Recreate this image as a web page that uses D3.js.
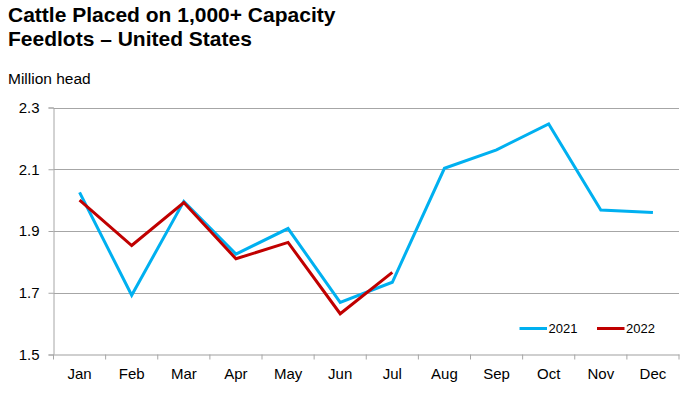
<!DOCTYPE html>
<html>
<head>
<meta charset="utf-8">
<script src="https://cdn.jsdelivr.net/npm/d3@7"></script>
<style>
  html, body { margin: 0; padding: 0; background: #fff; }
  svg { display: block; font-family: "Liberation Sans", Arial, sans-serif; }
</style>
</head>
<body>
<div id="chart"></div>
<script>
const months = ["Jan","Feb","Mar","Apr","May","Jun","Jul","Aug","Sep","Oct","Nov","Dec"];
const values2021 = [2.025, 1.692, 1.996, 1.825, 1.908, 1.669, 1.734, 2.103, 2.163, 2.247, 1.968, 1.960];
const values2022 = [2.000, 1.853, 1.992, 1.810, 1.863, 1.632, 1.766];
const yTicks = [1.5, 1.7, 1.9, 2.1, 2.3];
const seriesNames = ["2021", "2022"];
const seriesColors = ["#00b0f0", "#c00000"];

const W = 688, H = 394;
const margin = {left: 53.5, right: 9, top: 107.5, bottom: 39.5};

const svg = d3.select("#chart").append("svg").attr("width", W).attr("height", H);

svg.append("text").attr("x", 8).attr("y", 22)
  .attr("font-size", 21).attr("font-weight", "bold").attr("fill", "#000")
  .text("Cattle Placed on 1,000+ Capacity");
svg.append("text").attr("x", 8).attr("y", 45.5)
  .attr("font-size", 21).attr("font-weight", "bold").attr("fill", "#000")
  .text("Feedlots \u2013 United States");
svg.append("text").attr("x", 8).attr("y", 83.5)
  .attr("font-size", 15.5).attr("fill", "#000")
  .text("Million head");

const x = d3.scaleBand().domain(months).range([margin.left, W - margin.right]).padding(0);
const y = d3.scaleLinear().domain([1.5, 2.3]).range([H - margin.bottom, margin.top]);

// gridlines
svg.append("g").selectAll("line").data(yTicks.slice(1)).join("line")
  .attr("x1", margin.left).attr("x2", W - margin.right)
  .attr("y1", d => Math.round(y(d)) + 0.5).attr("y2", d => Math.round(y(d)) + 0.5)
  .attr("stroke", "#a6a6a6").attr("stroke-width", 1);

// y axis
const yAxis = svg.append("g").attr("transform", `translate(${margin.left},0)`)
  .call(d3.axisLeft(y).tickValues(yTicks).tickFormat(d3.format(".1f")).tickSize(5).tickPadding(9));
yAxis.select(".domain").attr("stroke", "#a6a6a6");
yAxis.selectAll(".tick line").attr("stroke", "#a6a6a6");
yAxis.selectAll("text").attr("font-size", 15).attr("fill", "#000").attr("font-family", "Liberation Sans, Arial, sans-serif");

// x axis
const xAxis = svg.append("g").attr("transform", `translate(0,${H - margin.bottom})`)
  .call(d3.axisBottom(x).tickSize(0).tickPadding(14));
xAxis.select(".domain").attr("stroke", "#bfbfbf").attr("stroke-width", 1.5);
xAxis.selectAll("text").attr("font-size", 15).attr("fill", "#000").attr("font-family", "Liberation Sans, Arial, sans-serif");
// category boundary ticks
const bounds = months.map(m => x(m)).concat([x(months[months.length - 1]) + x.bandwidth()]);
svg.append("g").selectAll("line").data(bounds).join("line")
  .attr("x1", d => d).attr("x2", d => d)
  .attr("y1", H - margin.bottom).attr("y2", H - margin.bottom + 5)
  .attr("stroke", "#a6a6a6");

const line = d3.line()
  .x((d, i) => x(months[i]) + x.bandwidth() / 2)
  .y(d => y(d));

[values2021, values2022].forEach((vals, k) => {
  svg.append("path").datum(vals)
    .attr("d", line)
    .attr("fill", "none")
    .attr("stroke", seriesColors[k])
    .attr("stroke-width", 3)
    .attr("stroke-linejoin", "miter");
});

// legend
const legendX = [519.5, 597];
const legendY = 328.5;
seriesNames.forEach((name, k) => {
  const g = svg.append("g");
  g.append("line").attr("x1", legendX[k]).attr("x2", legendX[k] + 27.5)
    .attr("y1", legendY).attr("y2", legendY)
    .attr("stroke", seriesColors[k]).attr("stroke-width", 3);
  g.append("text").attr("x", legendX[k] + 29).attr("y", legendY + 4.5)
    .attr("font-size", 13).attr("fill", "#000").text(name);
});
</script>
</body>
</html>
